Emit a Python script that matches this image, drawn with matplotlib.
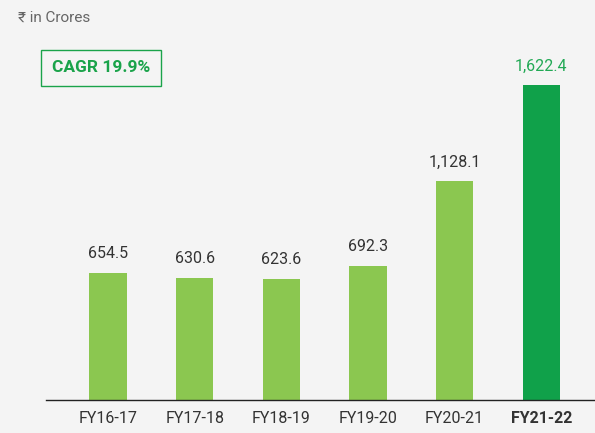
import matplotlib.pyplot as plt

years = ["FY16-17", "FY17-18", "FY18-19", "FY19-20", "FY20-21", "FY21-22"]
values = [654.5, 630.6, 623.6, 692.3, 1128.1, 1622.4]
labels = ["654.5", "630.6", "623.6", "692.3", "1,128.1", "1,622.4"]

bg = "#f4f4f4"
light = "#8bc750"
dark = "#10a14a"
txt = "#333333"

plt.rcParams['font.family'] = ['Roboto', 'DejaVu Sans']

fig = plt.figure(figsize=(5.95, 4.33), dpi=100, facecolor=bg)
ax = fig.add_axes([0.0773, 0.0762, 0.9227, 0.9238], facecolor=bg)

x = list(range(len(years)))
colors = [light] * (len(years) - 1) + [dark]
ax.bar(x, values, width=0.43, color=colors)

for i, v in enumerate(values):
    c = "#22a955" if i == len(values) - 1 else txt
    ax.text(i, v + 60, labels[i], ha="center", va="bottom", fontsize=11.5, color=c)

ax.set_xlim(-0.716, 5.62)
ax.set_ylim(0, 2062)
ax.set_yticks([])
ax.set_xticks(x)
ax.set_xticklabels(years, fontsize=11.5, color=txt)
ax.get_xticklabels()[-1].set_fontweight("bold")
ax.tick_params(axis="x", length=0, pad=8)
for s in ["top", "right", "left"]:
    ax.spines[s].set_visible(False)
ax.spines["bottom"].set_color("#222222")
ax.spines["bottom"].set_linewidth(1.0)

fig.text(18 / 595, 1 - 18 / 433, "₹ in Crores", fontsize=11, color="#666666", va="center", ha="left")
fig.text(101 / 595, 1 - 68 / 433, "CAGR 19.9%", fontsize=12.5, fontweight="bold", color="#1aa34a",
         ha="center", va="center",
         bbox=dict(boxstyle="square,pad=0.6", facecolor=bg, edgecolor="#1aa34a", linewidth=1))

fig.savefig("out.png", dpi=100, facecolor=bg)
